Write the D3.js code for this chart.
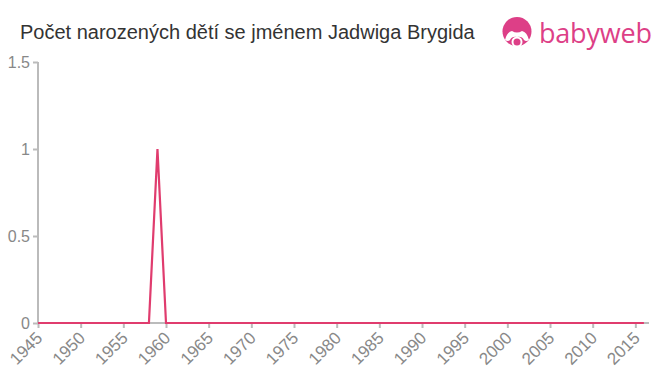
<!DOCTYPE html>
<html><head><meta charset="utf-8">
<script src="https://cdn.jsdelivr.net/npm/d3@7"></script>
<style>body{margin:0;background:#fff;font-family:"Liberation Sans",Arial,sans-serif;}</style>
</head><body><svg id="c" width="660" height="375"></svg>
<script>
const years = d3.range(1945, 2017);
const counts = years.map(y => y === 1959 ? 1 : 0);
const yTicks = [0, 0.5, 1, 1.5];
const xTicks = d3.range(1945, 2016, 5);
const title = "Počet narozených dětí se jménem Jadwiga Brygida";

const svg = d3.select("#c");
const x = d3.scaleLinear().domain([1945, 2016.6]).range([38, 649]);
const y = d3.scaleLinear().domain([0, 1.5]).range([323, 62]);

svg.append("text").attr("x", 20).attr("y", 39).attr("font-size", 20).attr("fill", "#333").text(title);

// logo
const logo = svg.append("g").attr("fill", "#dd3f87");
logo.append("circle").attr("cx", 517).attr("cy", 31.5).attr("r", 14.5);
logo.append("path").attr("fill", "#fff").attr("d", "M505,40 q2,-8 7,-9 q5,3 10,0 q5,1 7,9 q-3,2 -5,0 q-2,-4 -7,-3 q-5,-1 -7,3 q-2,2 -5,0z");
logo.append("circle").attr("cx", 517).attr("cy", 42).attr("r", 5.5).attr("fill", "#fff");
logo.append("circle").attr("cx", 517).attr("cy", 42).attr("r", 3.5);
logo.append("text").attr("x", 539).attr("y", 43).attr("font-size", 27).attr("font-family", "'Open Sans',sans-serif").attr("letter-spacing", -0.2).text("babyweb");

const ya = svg.append("g").attr("transform", "translate(38,0)")
  .call(d3.axisLeft(y).tickValues(yTicks).tickSize(5).tickPadding(3).tickFormat(d => String(d)));
const xa = svg.append("g").attr("transform", "translate(0,323)")
  .call(d3.axisBottom(x).tickValues(xTicks).tickSize(5).tickFormat(d3.format("d")));
[ya, xa].forEach(a => {
  a.select(".domain").attr("stroke", "#bbb").attr("stroke-width", 2);
  a.selectAll(".tick line").attr("stroke", "#bbb").attr("stroke-width", 2);
  a.selectAll("text").attr("fill", "#888").attr("font-size", 16).attr("font-family", "'Liberation Sans',Arial,sans-serif");
});
ya.select(".domain").attr("d", "M0,62V323");
xa.select(".domain").attr("d", "M38,0H649");
xa.selectAll("text").attr("text-anchor", "end").attr("x", 0).attr("y", 0).attr("dy", 0)
  .attr("font-size", 17)
  .attr("transform", "translate(5,16) rotate(-45)");

svg.append("path").datum(counts)
  .attr("fill", "none").attr("stroke", "#e03c6e").attr("stroke-width", 2.2)
  .attr("d", d3.line().x((d, i) => x(years[i])).y(d => y(d)));
</script></body></html>
